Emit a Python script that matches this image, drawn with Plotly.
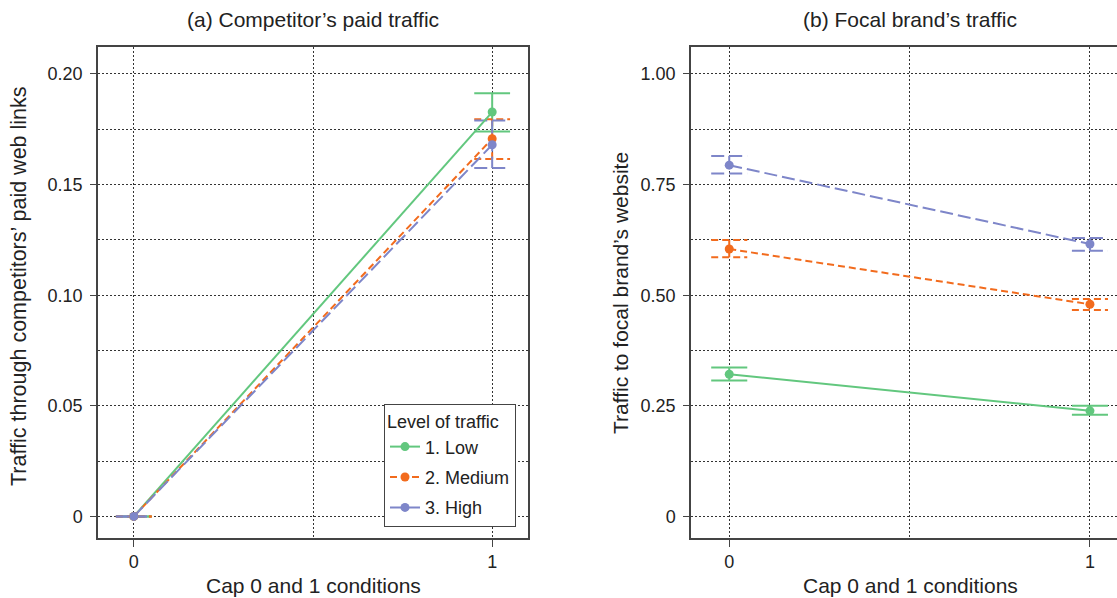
import plotly.graph_objects as go

# ---------------- data ----------------
conditions = [0, 1]
levels = ["1. Low", "2. Medium", "3. High"]

# (a) Competitor's paid traffic
paid_low = [0.0, 0.1828]
paid_low_lo = [0.0, 0.1740]
paid_low_hi = [0.0, 0.1913]
paid_med = [0.0, 0.1707]
paid_med_lo = [0.0, 0.1616]
paid_med_hi = [0.0, 0.1795]
paid_high = [0.0, 0.1680]
paid_high_lo = [0.0, 0.1575]
paid_high_hi = [0.0, 0.1790]

# (b) Focal brand's traffic
focal_low = [0.3214, 0.2386]
focal_low_lo = [0.3070, 0.2296]
focal_low_hi = [0.3363, 0.2499]
focal_med = [0.6043, 0.4795]
focal_med_lo = [0.5856, 0.4666]
focal_med_hi = [0.6246, 0.4914]
focal_high = [0.7939, 0.6156]
focal_high_lo = [0.7752, 0.6005]
focal_high_hi = [0.8149, 0.6291]

a_tickvals = [0, 0.05, 0.10, 0.15, 0.20]
a_ticktext = ["0", "0.05", "0.10", "0.15", "0.20"]
b_tickvals = [0, 0.25, 0.50, 0.75, 1.00]
b_ticktext = ["0", "0.25", "0.50", "0.75", "1.00"]
x_tickvals = [0, 1]
x_ticktext = ["0", "1"]

# ---------------- styles ----------------
colors = ["#62c77e", "#f26b1d", "#7e86c9"]
dashes = ["solid", "7px,4px", "13px,5px"]
FONT = "Liberation Sans, Arial, sans-serif"
TXT = "#222222"
AX = "#444444"
GRID = "#333333"
CAP = 0.05  # half-width of CI caps in x units

W, H = 1117, 598
ML, MR, MT, MB = 0, 0, 47, 60
PW, PH = W - ML - MR, H - MT - MB


def px_x(p):
    return (p - ML) / PW


def px_y(p):
    return (H - MB - p) / PH


fig = go.Figure()

panels = [
    ("x", "y", [paid_low, paid_med, paid_high],
     [paid_low_lo, paid_med_lo, paid_high_lo],
     [paid_low_hi, paid_med_hi, paid_high_hi], True),
    ("x2", "y2", [focal_low, focal_med, focal_high],
     [focal_low_lo, focal_med_lo, focal_high_lo],
     [focal_low_hi, focal_med_hi, focal_high_hi], False),
]

for xa, ya, means, los, his, show in panels:
    for i in range(3):
        # CI caps + whiskers built from data
        cx, cy = [], []
        for x, lo, hi in zip(conditions, los[i], his[i]):
            cx += [x - CAP, x + CAP, None, x, x, None, x - CAP, x + CAP, None]
            cy += [hi, hi, None, hi, lo, None, lo, lo, None]
        fig.add_trace(go.Scatter(
            x=cx, y=cy, mode="lines", xaxis=xa, yaxis=ya,
            line=dict(color=colors[i], width=2, dash=dashes[i]),
            showlegend=False, hoverinfo="skip"))
    for i in range(3):
        fig.add_trace(go.Scatter(
            x=conditions, y=means[i], mode="lines+markers",
            name=levels[i], xaxis=xa, yaxis=ya,
            legendgroup=levels[i], showlegend=show,
            line=dict(color=colors[i], width=2, dash=dashes[i]),
            marker=dict(color=colors[i], size=9)))

common_x = dict(
    tickvals=x_tickvals, ticktext=x_ticktext, ticks="outside", ticklen=7,
    tickcolor=AX, tickwidth=1.2, showline=True, linecolor=AX, linewidth=1.5,
    mirror=True, showgrid=True, gridcolor=GRID, gridwidth=1, griddash="2px,2px",
    zeroline=False, tickfont=dict(size=18, color=TXT, family=FONT),
    minor=dict(tickmode="array", tickvals=[0.5], showgrid=True, gridcolor=GRID,
               gridwidth=1, griddash="2px,2px", ticks=""),
)

common_y = dict(
    ticks="outside", ticklen=6, tickcolor=AX, tickwidth=1.2, showline=True,
    linecolor=AX, linewidth=1.5, showgrid=True, gridcolor=GRID, gridwidth=1,
    griddash="2px,2px", zeroline=False,
    tickfont=dict(size=18, color=TXT, family=FONT), ticklabelstandoff=4,
)

fig.update_layout(
    width=W, height=H,
    margin=dict(l=ML, r=MR, t=MT, b=MB),
    paper_bgcolor="white", plot_bgcolor="white",
    font=dict(family=FONT, color=TXT),
    xaxis=dict(domain=[px_x(98), px_x(528)], range=[-0.1, 1.1], anchor="y",
               **common_x),
    xaxis2=dict(domain=[px_x(691), 1.0], range=[-0.106, 1.075], anchor="y2",
                **common_x),
    yaxis=dict(domain=[0, 1], range=[-0.00976, 0.2122], anchor="x", mirror=True,
               tickvals=a_tickvals, ticktext=a_ticktext,
               minor=dict(tickmode="array",
                          tickvals=[0.025, 0.075, 0.125, 0.175],
                          showgrid=True, gridcolor=GRID, gridwidth=1,
                          griddash="2px,2px", ticks=""),
               **common_y),
    yaxis2=dict(domain=[0, 1], range=[-0.0488, 1.061], anchor="x2", mirror=False,
                tickvals=b_tickvals, ticktext=b_ticktext,
                minor=dict(tickmode="array",
                           tickvals=[0.125, 0.375, 0.625, 0.875],
                           showgrid=True, gridcolor=GRID, gridwidth=1,
                           griddash="2px,2px", ticks=""),
                **common_y),
    legend=dict(
        x=px_x(384), y=px_y(404), xanchor="left", yanchor="top",
        bgcolor="white", bordercolor=AX, borderwidth=1,
        font=dict(size=18, color=TXT, family=FONT),
        title=dict(text="Level of traffic", font=dict(size=18, color=TXT, family=FONT)),
        tracegroupgap=4, itemwidth=30,
    ),
    showlegend=True,
)

annots = [
    dict(text="(a) Competitor’s paid traffic", x=px_x(313), y=px_y(20), size=21, angle=0),
    dict(text="(b) Focal brand’s traffic", x=px_x(910), y=px_y(20), size=21, angle=0),
    dict(text="Cap 0 and 1 conditions", x=px_x(313), y=px_y(585), size=21, angle=0),
    dict(text="Cap 0 and 1 conditions", x=px_x(910), y=px_y(585), size=21, angle=0),
    dict(text="Traffic through competitors’ paid web links", x=px_x(19), y=px_y(286), size=21.5, angle=-90),
    dict(text="Traffic to focal brand’s website", x=px_x(620), y=px_y(293), size=21, angle=-90),
]
for a in annots:
    fig.add_annotation(text=a["text"], x=a["x"], y=a["y"], xref="paper", yref="paper",
                       xanchor="center", yanchor="middle", showarrow=False,
                       textangle=a["angle"],
                       font=dict(size=a["size"], color=TXT, family=FONT))

fig.write_html(
    "out.html",
    config={"displayModeBar": False},
    post_script="document.body.style.margin='0';document.body.style.overflow='hidden';",
)
